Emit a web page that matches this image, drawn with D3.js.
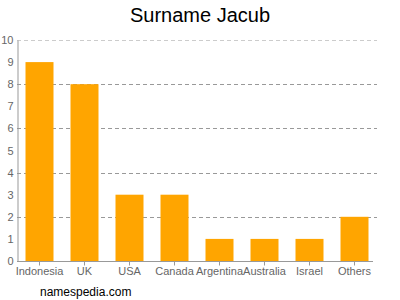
<!DOCTYPE html>
<html>
<head>
<meta charset="utf-8">
<script src="https://cdn.jsdelivr.net/npm/d3@7"></script>
<style>
  body { margin: 0; background: #fff; }
  text { font-family: "Liberation Sans", Arial, sans-serif; }
</style>
</head>
<body>
<svg id="chart" width="400" height="300"></svg>
<script>
const countries = ["Indonesia", "UK", "USA", "Canada", "Argentina", "Australia", "Israel", "Others"];
const counts = [9, 8, 3, 3, 1, 1, 1, 2];
const yTicks = [0, 1, 2, 3, 4, 5, 6, 7, 8, 9, 10];
const gridTicks = [2, 4, 6, 8, 10];

const svg = d3.select("#chart"),
   margin = {top: 40, right: 25, bottom: 39, left: 17},
   width = +svg.attr("width"),
   height = +svg.attr("height");

const xScale = d3.scaleBand()
   .domain(countries)
   .range([margin.left, margin.left + 360])
   .paddingInner(0.378)
   .paddingOuter(0.189);

const yScale = d3.scaleLinear()
   .domain([0, 10])
   .range([height - margin.bottom, margin.top]);

// title
svg.append("text")
   .attr("x", width / 2)
   .attr("y", 22)
   .attr("text-anchor", "middle")
   .attr("font-size", "20px")
   .attr("fill", "#000")
   .text("Surname Jacub");

// grid lines
svg.append("g")
   .selectAll("line")
   .data(gridTicks)
   .join("line")
   .attr("x1", margin.left)
   .attr("x2", 377)
   .attr("y1", d => Math.round(yScale(d)) + 0.5)
   .attr("y2", d => Math.round(yScale(d)) + 0.5)
   .attr("stroke", d => d === 10 ? "#ccc" : "#999")
   .attr("stroke-dasharray", "4,3");

// bars
svg.append("g")
   .selectAll("rect")
   .data(countries.map((c, i) => [c, counts[i]]))
   .join("rect")
   .attr("x", d => xScale(d[0]))
   .attr("y", d => yScale(d[1]))
   .attr("height", d => yScale(0) - yScale(d[1]))
   .attr("width", xScale.bandwidth())
   .attr("fill", "#ffa500");

// x axis
const xAxis = svg.append("g")
   .attr("transform", `translate(0,${Math.round(yScale(0)) + 0.5})`)
   .call(d3.axisBottom(xScale).tickSize(4).tickSizeOuter(0).tickPadding(2));
xAxis.select(".domain").attr("stroke", "#999").attr("d", "M17,0H373");
xAxis.selectAll(".tick line").attr("stroke", "#999");
xAxis.selectAll("text")
   .attr("font-size", "11px")
   .attr("fill", "#666")
   .attr("font-family", "Liberation Sans, Arial, sans-serif");

// y axis
const yAxis = svg.append("g")
   .attr("transform", `translate(${margin.left + 0.5},0)`)
   .call(d3.axisLeft(yScale).tickValues(yTicks).tickSize(0).tickPadding(4));
yAxis.select(".domain").attr("stroke", "#999");
yAxis.selectAll("text")
   .attr("font-size", "11px")
   .attr("fill", "#666")
   .attr("font-family", "Liberation Sans, Arial, sans-serif");

// footer
svg.append("text")
   .attr("x", 40)
   .attr("y", 296)
   .attr("font-size", "12px")
   .attr("fill", "#000")
   .text("namespedia.com");
</script>
</body>
</html>
